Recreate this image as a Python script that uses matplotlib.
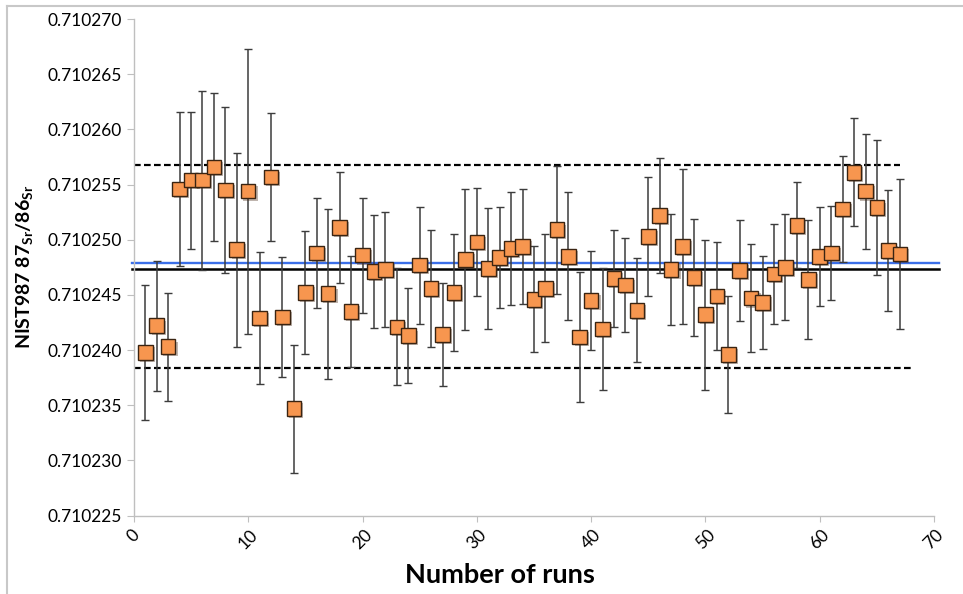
import matplotlib
matplotlib.use('Agg')
import matplotlib.pyplot as plt
import matplotlib.patheffects as pe
from matplotlib.lines import Line2D
import numpy as np

plt.rcParams['font.family'] = ['Lato', 'DejaVu Sans']

# NIST987 87Sr/86Sr runs, values in 1e-6 above 0.710200
base = 0.710200
runs = list(range(1, 68))
ratio_ppm = [39.8, 42.2, 40.3, 54.6, 55.4, 55.4, 56.6, 54.5, 49.1, 54.4,
             42.9, 55.7, 43.0, 34.7, 45.2, 48.8, 45.1, 51.1, 43.5, 48.6,
             47.1, 47.3, 42.1, 41.3, 47.7, 45.6, 41.4, 45.2, 48.2, 49.8,
             47.4, 48.4, 49.2, 49.4, 44.6, 45.6, 50.9, 48.5, 41.2, 44.5,
             41.9, 46.5, 45.9, 43.6, 50.3, 52.2, 47.3, 49.4, 46.6, 43.2,
             44.9, 39.6, 47.2, 44.7, 44.3, 46.9, 47.5, 51.3, 46.4, 48.5,
             48.8, 52.8, 56.1, 54.4, 52.9, 49.0, 48.7]
err_ppm = [6.1, 5.9, 4.9, 7.0, 6.2, 8.1, 6.7, 7.5, 8.8, 12.9,
           6.0, 5.8, 5.4, 5.8, 5.6, 5.0, 7.7, 5.0, 5.0, 5.2,
           5.1, 5.2, 5.3, 4.3, 5.3, 5.3, 4.7, 5.3, 6.4, 4.9,
           5.5, 4.6, 5.1, 5.2, 4.8, 4.9, 5.8, 5.8, 5.9, 4.5,
           5.5, 4.4, 4.3, 4.7, 5.4, 5.2, 5.0, 7.0, 5.3, 6.8,
           4.9, 5.3, 4.6, 4.9, 4.2, 4.5, 4.8, 3.9, 5.4, 4.5,
           4.3, 4.8, 4.9, 5.2, 6.1, 5.5, 6.8]

mean_black = 47.36
mean_blue = 47.85
upper_2sd = 56.73
lower_2sd = 38.33

ratio = base + np.array(ratio_ppm) * 1e-6
err = np.array(err_ppm) * 1e-6

fig = plt.figure(figsize=(9.63, 5.94), dpi=100)
ax = fig.add_axes([0.139, 0.132, 0.831, 0.836])

# reference lines
ax.plot([0, 67], [base + upper_2sd * 1e-6] * 2, color='black', ls='--', lw=1.6, dashes=(3, 1.5))
ax.plot([0, 68], [base + lower_2sd * 1e-6] * 2, color='black', ls='--', lw=1.6, dashes=(3, 1.5))
ax.plot([-0.2, 70.4], [base + mean_blue * 1e-6] * 2, color='#3b6fe8', lw=1.7, clip_on=False)
ax.plot([-0.2, 70.4], [base + mean_black * 1e-6] * 2, color='black', lw=1.8, clip_on=False)

eb = ax.errorbar(runs, ratio, yerr=err, fmt='s', ms=10.5, mfc='#f7964f', mec='#3a2412',
                 mew=1.0, ecolor='#3c3c3c', elinewidth=1.1, capsize=3, capthick=1.1,
                 zorder=5)
eb[0].set_path_effects([pe.SimplePatchShadow(offset=(1.5, -1.5), alpha=0.35), pe.Normal()])

ax.set_xlim(0, 70)
ax.set_ylim(0.710225, 0.710270)
ax.set_xticks(range(0, 71, 10))
ax.set_yticks(np.arange(0.710225, 0.7102701, 0.000005))
ax.set_yticklabels(['%.6f' % v for v in np.arange(0.710225, 0.7102701, 0.000005)])

for s in ['top', 'right']:
    ax.spines[s].set_visible(False)
for s in ['left', 'bottom']:
    ax.spines[s].set_color('#bfbfbf')
    ax.spines[s].set_linewidth(1.0)
ax.tick_params(axis='both', colors='#bfbfbf', labelcolor='black', length=5, labelsize=12.5)
ax.tick_params(axis='x', length=4, pad=4)
for lab in ax.get_xticklabels():
    lab.set_rotation(45)
    lab.set_ha('center')

ax.set_xlabel('Number of runs', fontsize=19.5, fontweight='bold')
ax.xaxis.set_label_coords(0.457, -0.095)
ax.set_ylabel(r'NIST987 87$_{\mathregular{Sr}}$/86$_{\mathregular{Sr}}$', fontsize=14,
              fontweight='bold', labelpad=8)

# chart frame edges
fig.add_artist(Line2D([0.0075, 0.0075], [0, 0.99], color='#c8c8c8', lw=1.5, transform=fig.transFigure))
fig.add_artist(Line2D([0.0075, 1.0], [0.99, 0.99], color='#c8c8c8', lw=1.5, transform=fig.transFigure))

fig.savefig('out.png', dpi=100)
